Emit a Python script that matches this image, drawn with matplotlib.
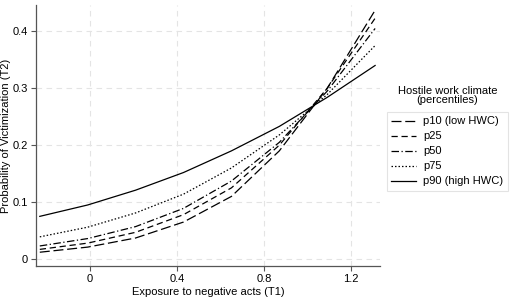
import matplotlib
matplotlib.use('Agg')
import matplotlib.pyplot as plt
from matplotlib.ticker import FuncFormatter

plt.rcParams['font.family'] = ['Liberation Sans', 'DejaVu Sans']

# exposure to negative acts (T1)
x = [-0.23, -0.01, 0.21, 0.43, 0.65, 0.87, 1.09, 1.31]

# predicted probability of victimization (T2) by HWC percentile
p10 = [0.012, 0.021, 0.037, 0.065, 0.110, 0.190, 0.300, 0.437]
p25 = [0.017, 0.028, 0.047, 0.078, 0.125, 0.200, 0.300, 0.423]
p50 = [0.023, 0.036, 0.057, 0.089, 0.137, 0.205, 0.295, 0.405]
p75 = [0.039, 0.056, 0.081, 0.114, 0.160, 0.218, 0.289, 0.375]
p90 = [0.075, 0.095, 0.121, 0.152, 0.190, 0.233, 0.284, 0.340]

labels = ['p10 (low HWC)', 'p25', 'p50', 'p75', 'p90 (high HWC)']
styles = [(0, (8, 3)), (0, (5, 3)), (0, (6, 2, 1, 2)), (0, (1.2, 1.6)), '-']

fig = plt.figure(figsize=(5.2, 3.02), dpi=100, facecolor='white')
ax = fig.add_axes([0.069, 0.119, 0.662, 0.864])

for ys, lab, ls in zip([p10, p25, p50, p75, p90], labels, styles):
    ax.plot(x, ys, color='black', lw=0.9, ls=ls, label=lab)

ax.set_xlim(-0.248, 1.333)
ax.set_ylim(-0.0123, 0.446)
ax.set_xticks([0, 0.4, 0.8, 1.2])
ax.set_yticks([0, 0.1, 0.2, 0.3, 0.4])
fmt = FuncFormatter(lambda v, p: '0' if abs(v) < 1e-9 else ('%g' % v))
ax.xaxis.set_major_formatter(fmt)
ax.yaxis.set_major_formatter(fmt)
ax.tick_params(labelsize=8, length=3.6, width=0.8, color='#555555', pad=2)
ax.grid(True, ls=(0, (5, 4)), color='#e4e4e4', lw=0.8)
ax.set_axisbelow(True)
for s in ['top', 'right']:
    ax.spines[s].set_visible(False)
for s in ['left', 'bottom']:
    ax.spines[s].set_color('#555555')
    ax.spines[s].set_linewidth(0.9)

ax.set_xlabel('Exposure to negative acts (T1)', fontsize=8)
ax.set_ylabel('Probability of Victimization (T2)', fontsize=8)
ax.xaxis.set_label_coords(0.5, -0.08)
ax.yaxis.set_label_coords(-0.072, 0.5)

fig.text(0.8606, 0.684, 'Hostile work climate\n(percentiles)', ha='center', va='center',
         fontsize=8, linespacing=0.95)
leg = ax.legend(loc='upper left', bbox_to_anchor=(0.744, 0.629), bbox_transform=fig.transFigure,
                fontsize=8, frameon=True, fancybox=False, handlelength=2.25,
                borderpad=0.4, labelspacing=0.45, handletextpad=0.6, borderaxespad=0)
leg.get_frame().set_edgecolor('#dddddd')
leg.get_frame().set_linewidth(0.8)

fig.savefig('out.png', dpi=100)
